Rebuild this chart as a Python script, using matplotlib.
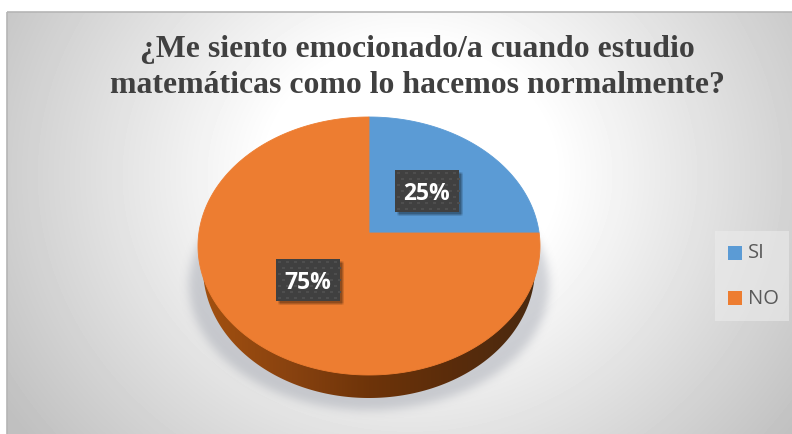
import numpy as np
import matplotlib
matplotlib.use("Agg")
import matplotlib.pyplot as plt
from matplotlib.patches import Polygon, Rectangle
from matplotlib.colors import LinearSegmentedColormap

title = "¿Me siento emocionado/a cuando estudio\nmatemáticas como lo hacemos normalmente?"
categories = ["SI", "NO"]
values = [25, 75]
percent_labels = ["25%", "75%"]
colors = ["#5B9BD5", "#ED7D31"]

W, H = 792, 434
CX, EY = 369, 246      # centre of the disc's top ellipse
RX, RY = 171, 129
APEX_Y = 233           # where the slices meet, shifted by the tilt
LOW_Y, LOW_RX, LOW_RY = 268, 166, 130   # lower rim of the disc


def box_blur(a, size, passes=3):
    kernel = np.ones(size) / size
    for _ in range(passes):
        a = np.apply_along_axis(lambda r: np.convolve(r, kernel, mode="same"), 0, a)
        a = np.apply_along_axis(lambda r: np.convolve(r, kernel, mode="same"), 1, a)
    return a


def rim_point(theta_deg):
    """Cast a ray from the apex at a pie angle and return where it meets the rim."""
    t = np.radians(theta_deg)
    dx, dy = np.cos(t), -np.sin(t)
    ay = (APEX_Y - EY) / RY
    b = ay * dy
    k = -b + np.sqrt(b * b - (ay * ay - 1))
    return CX + RX * k * dx, EY + RY * (ay + k * dy)


fig = plt.figure(figsize=(W / 100, H / 100), dpi=100, facecolor="white")
ax = fig.add_axes([0, 0, 1, 1])
ax.axis("off")

# Radial backdrop of the chart area
xx, yy = np.meshgrid(np.arange(W) + 0.5, np.arange(H) + 0.5)
dist = np.hypot((xx - 410) / 470, (yy - 175) / 420)
back = np.clip(1.03 - 0.27 * np.clip(dist - 0.22, 0, None) / 0.78, 0.75, 1.0)
grey = LinearSegmentedColormap.from_list("g", ["black", "white"])
ax.imshow(back[12:, 7:], extent=(7, W, H, 12), cmap=grey, vmin=0, vmax=1,
          aspect="auto", zorder=0)
ax.add_patch(Rectangle((7, 12), W, H, fill=False, ec="#b5b5b5", lw=1.2, zorder=1))

# Wedge angles come from the pie layout; the wedges are re-projected below
hidden_ax = fig.add_axes([0, 0, 0.01, 0.01])
hidden_ax.axis("off")
wedges, _ = hidden_ax.pie(values, startangle=90, counterclock=False)
spans = [(w.theta1, w.theta2) for w in wedges]
hidden_ax.remove()

# Soft shadow under the disc
r_eff = np.hypot((xx - CX) / 180, (yy - 285) / 125)
shadow = box_blur((r_eff <= 1.0).astype(float), 9)
shadow_rgba = np.zeros((H, W, 4))
shadow_rgba[..., :3] = (0.55, 0.57, 0.62)
shadow_rgba[..., 3] = 0.38 * shadow
ax.imshow(shadow_rgba, extent=(0, W, H, 0), aspect="auto", zorder=2)

# Side wall with a left-to-right darkening gradient
circle = np.radians(np.linspace(0, 360, 721))
wall_pts = np.c_[CX + LOW_RX * np.cos(circle), LOW_Y + LOW_RY * np.sin(circle)]
wall_cmap = LinearSegmentedColormap.from_list(
    "wall", ["#A2500F", "#8A4310", "#6E3409", "#5A2C0B", "#4A2A10"])
grad = np.linspace(0, 1, 256)[None, :]
img = ax.imshow(grad, extent=(CX - LOW_RX, CX + LOW_RX, LOW_Y + LOW_RY, LOW_Y - LOW_RY),
                cmap=wall_cmap, aspect="auto", zorder=3)
wall = Polygon(wall_pts, closed=True, fc="none", ec="none", transform=ax.transData)
ax.add_patch(wall)
img.set_clip_path(wall)

# Top face
for (t1, t2), col in zip(spans, colors):
    th = np.linspace(t1, t2, max(int(t2 - t1) * 2, 2))
    px, py = rim_point(th)
    face = np.r_[[[CX, APEX_Y]], np.c_[px, py]]
    ax.add_patch(Polygon(face, closed=True, fc=col, ec=col, lw=0.6, zorder=4))

# Percentage labels on dark dotted boxes
label_boxes = [(395, 170, 64, 42), (276, 259, 64, 42)]
for text, (bx, by, bw, bh) in zip(percent_labels, label_boxes):
    soft = np.zeros((H, W))
    soft[by + 3:by + bh + 3, bx + 3:bx + bw + 3] = 1
    soft = box_blur(soft, 3, 1)
    rgba = np.zeros((H, W, 4))
    rgba[..., 3] = 0.4 * soft
    ax.imshow(rgba, extent=(0, W, H, 0), aspect="auto", zorder=5)
    ax.add_patch(Rectangle((bx, by), bw, bh, fc="#404040", ec="none", zorder=6))
    for gy in np.arange(by + 2, by + bh, 6):
        off = 0 if int((gy - by) / 6) % 2 == 0 else 4
        for gx in np.arange(bx + 2 + off, bx + bw - 1, 8):
            ax.add_patch(Rectangle((gx, gy), 3, 2, fc="#4E4E4E", ec="none", zorder=6.5))
    ax.text(bx + bw / 2, by + bh / 2 + 3, text, color="white", fontsize=16.5,
            fontweight="bold", family="Open Sans", ha="center", va="center", zorder=7)

# Title
ax.text(417, 67.5, title, family="Liberation Serif", fontweight="bold", fontsize=22.9,
        color="#404040", ha="center", va="center", linespacing=1.35, zorder=8)

# Legend
ax.add_patch(Rectangle((715, 231), 74, 90, fc="#ECECEC", ec="none", alpha=0.6, zorder=8))
for name, col, ytop in zip(categories, colors, (246, 291)):
    ax.add_patch(Rectangle((728, ytop), 14, 14, fc=col, ec="none", zorder=9))
    ax.text(748, ytop + 7.5, name, family="Open Sans", fontsize=14.5,
            color="#595959", ha="left", va="center", zorder=9)

ax.set_xlim(0, W)
ax.set_ylim(H, 0)
fig.savefig("out.png", dpi=100)
